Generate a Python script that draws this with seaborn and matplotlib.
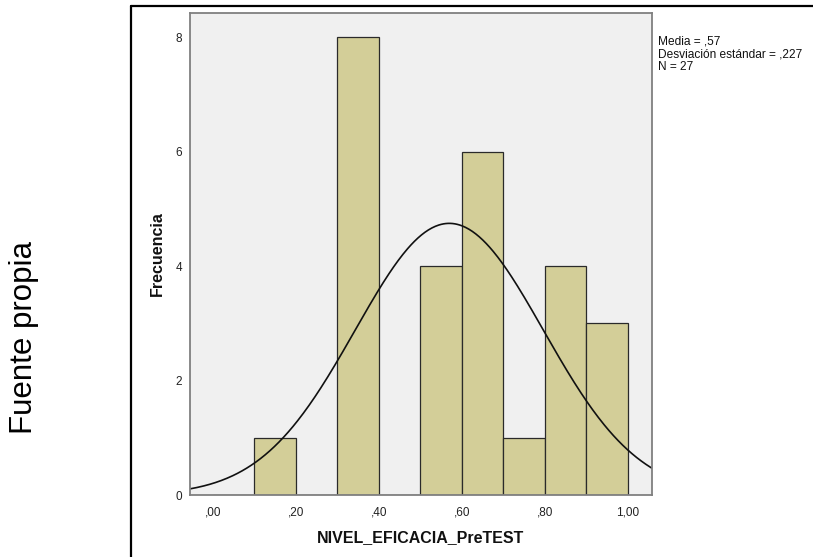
import numpy as np
import pandas as pd
import matplotlib
matplotlib.use("Agg")
import matplotlib.pyplot as plt
from matplotlib.lines import Line2D
import seaborn as sns

# Histogram of NIVEL_EFICACIA_PreTEST (bin midpoints and frequencies)
bin_edges = [0.0, 0.1, 0.2, 0.3, 0.4, 0.5, 0.6, 0.7, 0.8, 0.9, 1.0]
bin_mids = [0.15, 0.35, 0.55, 0.65, 0.75, 0.85, 0.95]
frequencies = [1, 8, 4, 6, 1, 4, 3]

# Summary statistics shown beside the plot
mean_value = 0.57
std_value = 0.227
n_value = 27

x_ticks = [0.0, 0.2, 0.4, 0.6, 0.8, 1.0]
x_tick_labels = [",00", ",20", ",40", ",60", ",80", "1,00"]
y_ticks = [0, 2, 4, 6, 8]

sns.set_style("white")
plt.rcParams["font.family"] = ["Liberation Sans", "DejaVu Sans"]

W, H = 813, 557
fig = plt.figure(figsize=(W / 100, H / 100), dpi=100)
ax = fig.add_axes([190 / W, 1 - 495 / H, (651.7 - 190) / W, (495 - 13) / H])
ax.set_facecolor("#F0F0F0")

df = pd.DataFrame({"valor": bin_mids, "frecuencia": frequencies})
sns.histplot(data=df, x="valor", weights="frecuencia", bins=bin_edges,
             color="#D3CE98", edgecolor="#2a2a2a", linewidth=0.9,
             alpha=1.0, ax=ax)

ax.set_xlim(-0.055, 1.058)
ax.set_ylim(0, 8.42)

# Normal curve scaled to the histogram (N * bin width)
xs = np.linspace(-0.055, 1.058, 400)
bw = 0.1
ys = n_value * bw / (std_value * np.sqrt(2 * np.pi)) * np.exp(-0.5 * ((xs - mean_value) / std_value) ** 2)
ax.plot(xs, ys, color="#111111", linewidth=1.2)

ax.set_xticks(x_ticks)
ax.set_xticklabels(x_tick_labels)
ax.set_yticks(y_ticks)
ax.tick_params(axis="both", direction="out", length=5, width=1,
               color="#222222", labelsize=8.5, labelcolor="#222222")
ax.tick_params(axis="y", pad=0.5)
ax.tick_params(axis="x", pad=3)

for side in ["top", "right", "left", "bottom"]:
    ax.spines[side].set_visible(True)
    ax.spines[side].set_color("#808080")
    ax.spines[side].set_linewidth(1.3)

ax.set_xlabel("NIVEL_EFICACIA_PreTEST", fontsize=11.5, fontweight="bold", color="#111111")
ax.set_ylabel("Frecuencia", fontsize=11.5, fontweight="bold", color="#111111")
ax.xaxis.set_label_coords(0.5, -0.072)
ax.yaxis.set_label_coords(-0.054, 0.5)

fig.text(658 / W, 1 - 36 / H,
         "Media = ,57\nDesviación estándar = ,227\nN = 27",
         ha="left", va="top", fontsize=8.6, color="#111111", linespacing=1.05)

fig.text(24 / W, 1 - 337 / H, "Fuente propia", rotation=90,
         ha="center", va="center", fontsize=22.5, color="#000000")

# Outer frame (top and left edges)
fig.add_artist(Line2D([131 / W, 1.0], [1 - 6 / H, 1 - 6 / H],
                      transform=fig.transFigure, color="black", linewidth=1.6))
fig.add_artist(Line2D([131 / W, 131 / W], [1 - 6 / H, 0.0],
                      transform=fig.transFigure, color="black", linewidth=1.6))

fig.savefig("out.png", dpi=100)
